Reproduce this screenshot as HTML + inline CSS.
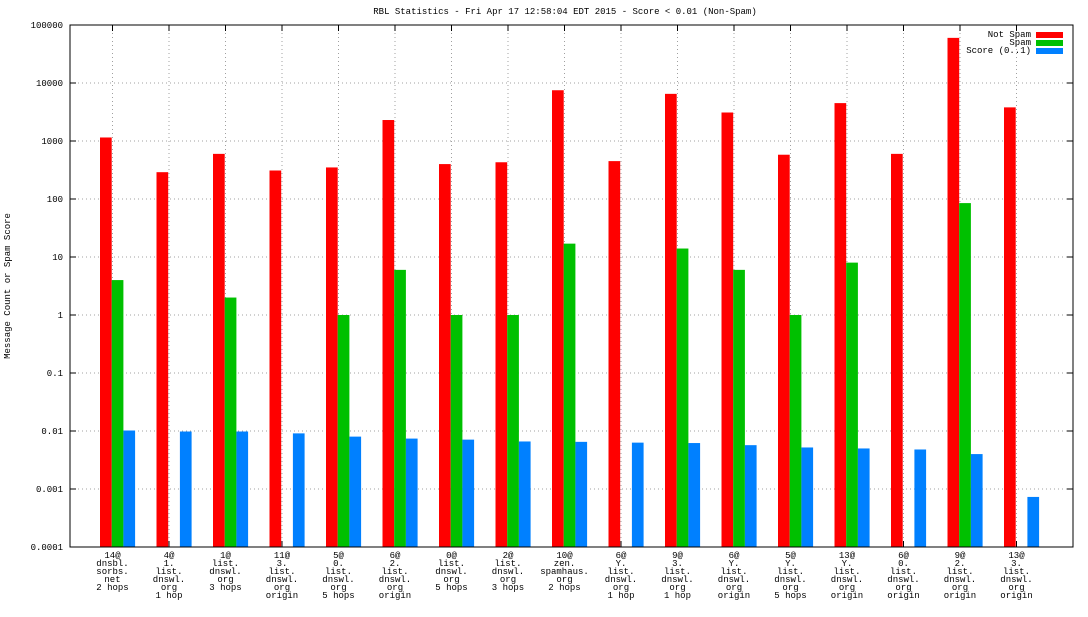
<!DOCTYPE html>
<html><head><meta charset="utf-8"><style>
body{margin:0;background:#fff}
svg text{font-family:"Liberation Mono","DejaVu Sans Mono",monospace;font-size:9px;fill:#000}
</style></head><body>
<svg id="chart" width="1088" height="612" xmlns="http://www.w3.org/2000/svg"></svg>
<script>
const categories=[["14@","dnsbl.","sorbs.","net","2 hops"],["4@","1.","list.","dnswl.","org","1 hop"],["1@","list.","dnswl.","org","3 hops"],["11@","3.","list.","dnswl.","org","origin"],["5@","0.","list.","dnswl.","org","5 hops"],["6@","2.","list.","dnswl.","org","origin"],["0@","list.","dnswl.","org","5 hops"],["2@","list.","dnswl.","org","3 hops"],["10@","zen.","spamhaus.","org","2 hops"],["6@","Y.","list.","dnswl.","org","1 hop"],["9@","3.","list.","dnswl.","org","1 hop"],["6@","Y.","list.","dnswl.","org","origin"],["5@","Y.","list.","dnswl.","org","5 hops"],["13@","Y.","list.","dnswl.","org","origin"],["6@","0.","list.","dnswl.","org","origin"],["9@","2.","list.","dnswl.","org","origin"],["13@","3.","list.","dnswl.","org","origin"]];
const notSpam=[1150,290,600,310,350,2300,400,430,7500,450,6500,3100,580,4500,600,60000,3800];
const spam=[4,0,2,0,1,6,1,1,17,0,14,6,1,8,0,85,0];
const score=[0.0102,0.0098,0.0098,0.0091,0.0080,0.0074,0.0071,0.0066,0.0065,0.0063,0.0062,0.0057,0.0052,0.0050,0.0048,0.0040,0.00073];
const yTicks=["0.0001","0.001","0.01","0.1","1","10","100","1000","10000","100000"];
const seriesNames=["Not Spam","Spam","Score (0..1)"];
const colors=["#ff0000","#00c000","#0080ff"];

const svg=document.getElementById('chart');const NS="http://www.w3.org/2000/svg";
function mk(t,a,p){const e=document.createElementNS(NS,t);for(const k in a)e.setAttribute(k,a[k]);(p||svg).appendChild(e);return e;}
const L=70,R=1073,T=25,B=547;
function y(v){return B-(Math.log10(v)+4)*(B-T)/9;}
function xc(i){return 112.5+i*56.5;}
const bw=11.7;
yTicks.forEach((t,k)=>{const v=parseFloat(t),py=y(v);
 if(k>0&&k<9){const g=mk('line',{x1:L,x2:R,y1:py,y2:py,stroke:'#a0a0a0','stroke-dasharray':'1,3'});}
 mk('line',{x1:L,x2:L+6,y1:py,y2:py,stroke:'#000'});mk('line',{x1:R-6,x2:R,y1:py,y2:py,stroke:'#000'});
 const tx=mk('text',{x:63,y:py+3,'text-anchor':'end'});tx.textContent=t;
 
});
categories.forEach((c,i)=>{const px=xc(i);
 const g=mk('line',{x1:px,x2:px,y1:T,y2:B,stroke:'#a0a0a0','stroke-dasharray':'1,3'});
 
 mk('line',{x1:px,x2:px,y1:B,y2:B-6,stroke:'#000'});mk('line',{x1:px,x2:px,y1:T,y2:T+6,stroke:'#000'});
 const tx=mk('text',{x:px,y:558,'text-anchor':'middle'});
 
 c.forEach((l,j)=>{const s=mk('tspan',{x:px,dy:j?8:0},tx);s.textContent=l;});
});
[notSpam,spam,score].forEach((arr,s)=>{arr.forEach((v,i)=>{if(!(v>0))return;
 const x0=xc(i)-12.5+s*bw,py=y(v);
 const r=mk('rect',{x:x0,y:py,width:bw,height:B-py,fill:colors[s]});
 
});});
const fr=mk('rect',{x:L,y:T,width:R-L,height:B-T,fill:'none',stroke:'#000'});

seriesNames.forEach((n,s)=>{const ly=35+s*8;
 const t=mk('text',{x:1031,y:ly+2,'text-anchor':'end'});t.textContent=n;
 
 const r=mk('rect',{x:1036,y:ly-3,width:27,height:6,fill:colors[s]});
 
});
const ti=mk('text',{x:565,y:14,'text-anchor':'middle'});ti.textContent="RBL Statistics - Fri Apr 17 12:58:04 EDT 2015 - Score < 0.01 (Non-Spam)";

const yt=mk('text',{x:0,y:0,'text-anchor':'middle',transform:'translate(10,286) rotate(-90)'});yt.textContent="Message Count or Spam Score";

</script>
</body></html>
